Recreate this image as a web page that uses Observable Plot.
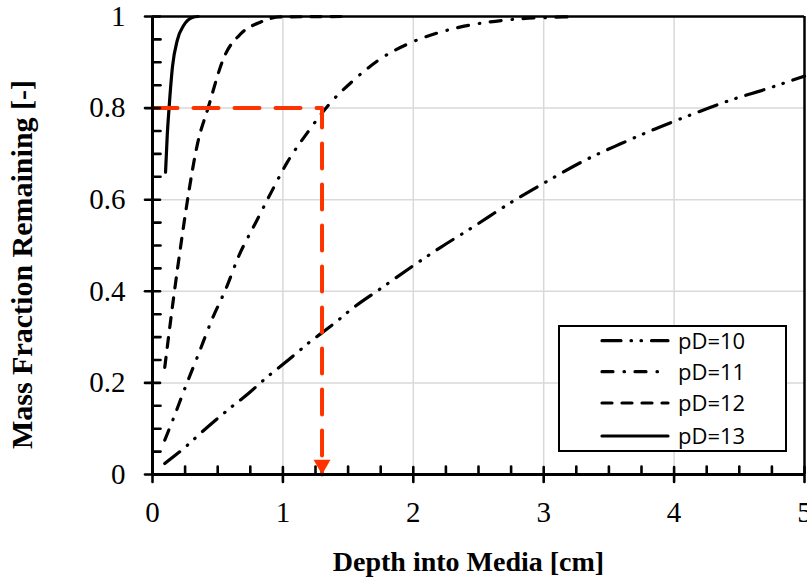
<!DOCTYPE html>
<html><head><meta charset="utf-8">
<script src="https://cdn.jsdelivr.net/npm/d3@7"></script>
<script src="https://cdn.jsdelivr.net/npm/@observablehq/plot@0.6"></script>
<style>
body{margin:0;background:#fff;}
#wrap{position:relative;width:807px;height:582px;overflow:hidden;background:#fff;}
#legend{position:absolute;left:558px;top:325px;width:229px;height:127px;box-sizing:border-box;border:2px solid #000;background:#fff;}
#legend svg{position:absolute;left:-2px;top:-2px;}
</style>
</head><body>
<div id="wrap"><div id="chart"></div><div id="legend"></div></div>
<script>
// ---- data ----
const xTitle = "Depth into Media [cm]";
const yTitle = "Mass Fraction Remaining [-]";
const seriesLabels = ["pD=10", "pD=11", "pD=12", "pD=13"];

const pD10_x = [0.094, 0.24, 0.38, 0.574, 0.74, 0.88, 1.02, 1.21, 1.386, 1.53, 1.76, 1.98, 2.21, 2.44, 2.76, 3.0, 3.33, 3.59, 3.85, 4.08, 4.46, 4.71, 4.98, 5.0];
const pD10_y = [0.024, 0.057, 0.093, 0.14, 0.178, 0.213, 0.245, 0.29, 0.328, 0.362, 0.408, 0.452, 0.496, 0.537, 0.596, 0.636, 0.688, 0.722, 0.754, 0.78, 0.82, 0.842, 0.868, 0.87];

const pD11_x = [0.094, 0.16, 0.255, 0.357, 0.454, 0.565, 0.663, 0.788, 0.91, 1.034, 1.187, 1.36, 1.543, 1.75, 1.99, 2.26, 2.51, 2.78, 3.15, 3.25];
const pD11_y = [0.075, 0.122, 0.193, 0.266, 0.337, 0.407, 0.478, 0.548, 0.616, 0.682, 0.746, 0.81, 0.861, 0.908, 0.944, 0.97, 0.985, 0.994, 0.999, 1.0];

const pD12_x = [0.094, 0.166, 0.23, 0.28, 0.345, 0.426, 0.55, 0.68, 0.83, 0.98, 1.5];
const pD12_y = [0.234, 0.395, 0.526, 0.62, 0.722, 0.80, 0.912, 0.963, 0.988, 0.999, 1.0];

const pD13_x = [0.10, 0.113, 0.127, 0.153, 0.19, 0.24, 0.306, 0.35];
const pD13_y = [0.66, 0.74, 0.80, 0.89, 0.948, 0.981, 0.998, 1.0];

const refDepth = 1.3;
const refFraction = 0.8;

const xMajor = [0, 1, 2, 3, 4, 5];
const xMinor = [0.25, 0.5, 0.75, 1.25, 1.5, 1.75, 2.25, 2.5, 2.75, 3.25, 3.5, 3.75, 4.25, 4.5, 4.75];
const yMajor = [0, 0.2, 0.4, 0.6, 0.8, 1];
const yMinor = [0.05, 0.1, 0.15, 0.25, 0.3, 0.35, 0.45, 0.5, 0.55, 0.65, 0.7, 0.75, 0.85, 0.9, 0.95];

// ---- styles ----
const dashes = ["19 10 0.5 9.5 0.5 10", "11 11 0.5 10.5", "10 10", null];
const RED = "#ff3300";
const W = 807, H = 582, ML = 152, MR = 3, MT = 16, MB = 108;

const toRows = (xs, ys) => xs.map((x, i) => ({x, y: ys[i]}));
const series = [toRows(pD10_x, pD10_y), toRows(pD11_x, pD11_y), toRows(pD12_x, pD12_y), toRows(pD13_x, pD13_y)];

const lineMarks = series.map((rows, i) => Plot.line(rows, {
  x: "x", y: "y", curve: "monotone-x", stroke: "#000", strokeWidth: 3.2,
  strokeLinecap: "round", strokeDasharray: dashes[i] || undefined
}));

const refPath = [{x: 0, y: refFraction}, {x: refDepth, y: refFraction}, {x: refDepth, y: 0}];

// straight tick shape for vector marks
const tickShape = {draw(context, l) { context.moveTo(0, 0); context.lineTo(0, -l); }};

const chart = Plot.plot({
  width: W, height: H,
  marginLeft: ML, marginRight: MR, marginTop: MT, marginBottom: MB,
  x: {domain: [0, 5], axis: null},
  y: {domain: [0, 1], axis: null},
  style: {fontFamily: "'Liberation Serif','Times New Roman',serif", fontSize: "29px", color: "#000", background: "#fff", overflow: "visible"},
  marks: [
    Plot.gridX(xMajor.filter(d => d > 0 && d < 5), {stroke: "#d9d9d9", strokeOpacity: 1, strokeWidth: 1.5}),
    Plot.gridY(yMajor.filter(d => d > 0 && d < 1), {stroke: "#d9d9d9", strokeOpacity: 1, strokeWidth: 1.5}),
    ...lineMarks,
    Plot.line(refPath, {x: "x", y: "y", stroke: RED, strokeWidth: 4, strokeDasharray: "25 16", strokeLinecap: "round"}),
    Plot.dot([{x: refDepth, y: 0}], {x: "x", y: "y", symbol: "triangle", r: 6.3, fill: RED, stroke: null, rotate: 180, dy: -9.8}),
    Plot.ruleY([1], {stroke: "#000", strokeWidth: 2.5}),
    Plot.ruleX([5], {stroke: "#000", strokeWidth: 2.5}),
    Plot.ruleY([0], {stroke: "#000", strokeWidth: 3}),
    Plot.ruleX([0], {stroke: "#000", strokeWidth: 3}),
    // tick marks (minor: inward; major: crossing the axis)
    Plot.vector(xMinor, {x: d => d, y: 0, length: 8, rotate: 0, anchor: "start", stroke: "#000", strokeWidth: 2.6, shape: tickShape}),
    Plot.vector(xMajor, {x: d => d, y: 0, length: 15, rotate: 0, anchor: "middle", stroke: "#000", strokeWidth: 2.6, shape: tickShape}),
    Plot.vector(yMinor, {x: 0, y: d => d, length: 8, rotate: 90, anchor: "start", stroke: "#000", strokeWidth: 2.6, shape: tickShape}),
    Plot.vector(yMajor, {x: 0, y: d => d, length: 15, rotate: 90, anchor: "middle", stroke: "#000", strokeWidth: 2.6, shape: tickShape}),
    // tick labels
    Plot.text(xMajor, {x: d => d, text: d => String(d), frameAnchor: "bottom", dy: 38, fontSize: 29, lineAnchor: "middle"}),
    Plot.text(yMajor, {y: d => d, text: d => String(d), frameAnchor: "left", textAnchor: "end", dx: -27, fontSize: 29, lineAnchor: "middle"}),
    // axis titles
    Plot.text([xTitle], {text: d => d, frameAnchor: "bottom", dy: 88, dx: -10, fontWeight: "bold", fontSize: 28, lineAnchor: "middle"}),
    Plot.text([yTitle], {text: d => d, frameAnchor: "left", textAnchor: "middle", dx: -130, dy: 19, rotate: -90, fontWeight: "bold", fontSize: 30, lineAnchor: "middle"})
  ]
});
document.getElementById("chart").appendChild(chart);

// ---- legend ----
const ns = "http://www.w3.org/2000/svg";
const lsvg = document.createElementNS(ns, "svg");
lsvg.setAttribute("width", 229); lsvg.setAttribute("height", 127);
const rowY = [15.7, 46.7, 78, 111];
seriesLabels.forEach((lab, i) => {
  const ln = document.createElementNS(ns, "line");
  ln.setAttribute("x1", 44); ln.setAttribute("x2", 110);
  ln.setAttribute("y1", rowY[i]); ln.setAttribute("y2", rowY[i]);
  ln.setAttribute("stroke", "#000"); ln.setAttribute("stroke-width", 3.2);
  ln.setAttribute("stroke-linecap", "round");
  if (dashes[i]) ln.setAttribute("stroke-dasharray", dashes[i]);
  lsvg.appendChild(ln);
  const t = document.createElementNS(ns, "text");
  t.setAttribute("x", 120); t.setAttribute("y", rowY[i] + 8);
  t.setAttribute("font-family", "'Open Sans', sans-serif");
  t.setAttribute("font-size", 22);
  t.textContent = lab;
  lsvg.appendChild(t);
});
document.getElementById("legend").appendChild(lsvg);
</script>
</body></html>
